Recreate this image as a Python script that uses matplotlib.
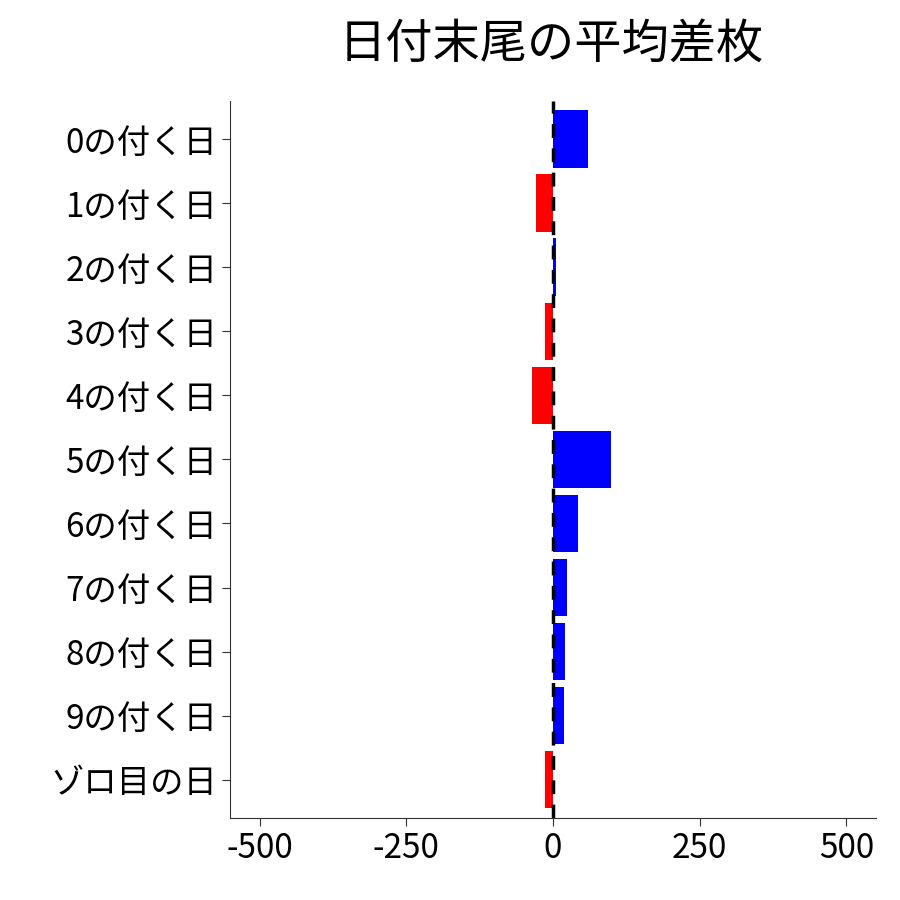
import matplotlib.pyplot as plt

plt.rcParams['font.family'] = ['Noto Sans CJK JP', 'DejaVu Sans']
plt.rcParams['axes.unicode_minus'] = False

labels = ['0の付く日', '1の付く日', '2の付く日', '3の付く日', '4の付く日', '5の付く日',
          '6の付く日', '7の付く日', '8の付く日', '9の付く日', 'ゾロ目の日']
values = [60, -29, 5, -14, -36, 99, 42, 24, 20, 18, -14]

fig = plt.figure(figsize=(9, 9), dpi=100)
ax = fig.add_axes([0.256, 0.091, 0.717, 0.797])

colors = ['blue' if v > 0 else 'red' for v in values]
ypos = list(range(len(labels)))
ax.barh(ypos, values, height=0.9, color=colors)
ax.axvline(0, color='black', linestyle=(0, (4, 3)), linewidth=2.5)

ax.set_yticks(ypos)
ax.set_yticklabels(labels)
ax.set_ylim(len(labels) - 0.4, -0.6)
ax.set_xlim(-550, 550)
ax.set_xticks([-500, -250, 0, 250, 500])
ax.tick_params(labelsize=24, length=6, color='#333333', labelcolor='black')
for s in ['top', 'right']:
    ax.spines[s].set_visible(False)
for s in ['left', 'bottom']:
    ax.spines[s].set_color('#333333')

fig.text(0.613, 0.95, '日付末尾の平均差枚', fontsize=34, ha='center', va='center')
fig.savefig('out.png', dpi=100)
